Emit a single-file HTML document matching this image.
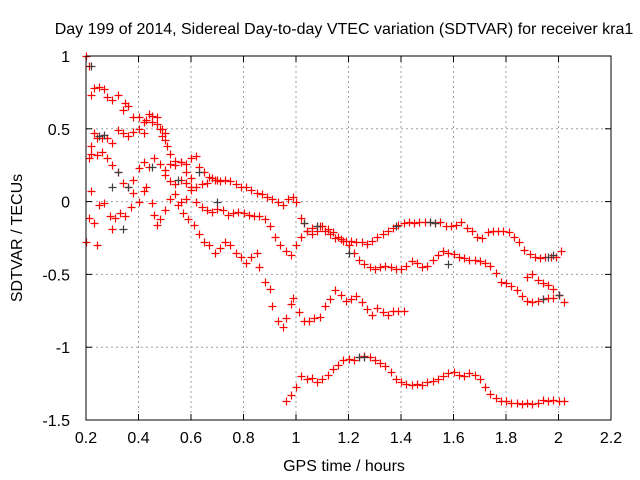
<!DOCTYPE html>
<html><head><meta charset="utf-8"><style>
body{margin:0;background:#fff;}
svg{display:block;font-family:"Liberation Sans",sans-serif;}
</style></head><body>
<svg id="chart" width="640" height="480" viewBox="0 0 640 480">
<rect x="0" y="0" width="640" height="480" fill="#fff"/>
<g id="grid"></g>
<g id="marks"></g>
<rect x="86" y="56" width="525" height="364" fill="none" stroke="#000" stroke-width="1"/>
<g id="ticks"></g>
<text x="344" y="34" font-size="16" text-anchor="middle">Day 199 of 2014, Sidereal Day-to-day VTEC variation (SDTVAR) for receiver kra1</text>
<text x="344" y="471" font-size="16" text-anchor="middle">GPS time / hours</text>
<text x="0" y="0" font-size="16" text-anchor="middle" transform="translate(22,238) rotate(-90)">SDTVAR / TECUs</text>
</svg>
<script>
const xTicks=[0.2,0.4,0.6,0.8,1,1.2,1.4,1.6,1.8,2,2.2];
const xTickLabels=["0.2","0.4","0.6","0.8","1","1.2","1.4","1.6","1.8","2","2.2"];
const yTicks=[1,0.5,0,-0.5,-1,-1.5];
const yTickLabels=["1","0.5","0","-0.5","-1","-1.5"];
const aX=[0.99,1.0,1.02,1.03,1.04,1.06,1.08,1.09,1.11,1.13,1.15,1.17,1.19,1.21,1.23,1.25,1.27,1.29,1.31,1.33,1.35,1.37,1.39,1.41,1.43,1.45,1.47,1.49,1.51,1.53,1.55,1.57,1.59,1.61,1.63,1.65,1.67,1.69,1.71,1.73,1.75,1.77,1.79,1.81,1.83,1.85,1.87,1.89,1.91,1.93,1.95,1.97,1.99,2.01];
const aY=[0.03,0.0,-0.11,-0.15,-0.2,-0.22,-0.2,-0.17,-0.2,-0.22,-0.25,-0.26,-0.27,-0.27,-0.28,-0.28,-0.29,-0.27,-0.24,-0.22,-0.2,-0.18,-0.16,-0.15,-0.14,-0.15,-0.14,-0.14,-0.14,-0.15,-0.14,-0.17,-0.17,-0.16,-0.14,-0.18,-0.2,-0.24,-0.25,-0.21,-0.2,-0.2,-0.2,-0.21,-0.24,-0.28,-0.33,-0.36,-0.38,-0.39,-0.38,-0.38,-0.38,-0.34];
const bX=[0.86,0.88,0.9,0.92,0.94,0.96,0.98,1.0,1.02,1.04,1.06,1.08,1.1,1.12,1.14,1.16,1.18,1.2,1.22,1.24,1.26,1.28,1.3,1.32,1.34,1.36,1.38,1.4,1.42,1.44,1.46,1.48,1.5,1.52,1.54,1.56,1.58,1.6,1.62,1.64,1.66,1.68,1.7,1.72,1.74,1.76,1.78,1.8,1.82,1.84,1.86,1.88,1.9,1.92,1.94,1.96,1.98,2.0,2.02,1.88,1.9,1.92,1.94,1.96,1.98,2.0];
const bY=[-0.1,-0.12,-0.17,-0.24,-0.3,-0.34,-0.37,-0.3,-0.24,-0.2,-0.18,-0.17,-0.17,-0.19,-0.21,-0.24,-0.27,-0.3,-0.35,-0.4,-0.43,-0.45,-0.46,-0.45,-0.44,-0.45,-0.46,-0.46,-0.44,-0.41,-0.42,-0.45,-0.44,-0.4,-0.37,-0.34,-0.35,-0.36,-0.38,-0.39,-0.4,-0.4,-0.41,-0.42,-0.44,-0.49,-0.55,-0.56,-0.58,-0.61,-0.65,-0.68,-0.69,-0.68,-0.67,-0.66,-0.66,-0.64,-0.69,-0.52,-0.5,-0.54,-0.56,-0.57,-0.6,-0.64];
const cX=[0.55,0.57,0.59,0.61,0.63,0.65,0.67,0.69,0.71,0.73,0.75,0.77,0.79,0.81,0.83,0.85,0.86,0.88,0.9,0.91,0.93,0.95,0.96,0.98,0.99,1.01,1.03,1.05,1.07,1.09,1.11,1.13,1.15,1.17,1.19,1.21,1.23,1.25,1.27,1.29,1.31,1.33,1.35,1.37,1.39,1.41];
const cY=[-0.02,-0.08,-0.12,-0.16,-0.22,-0.28,-0.3,-0.35,-0.32,-0.28,-0.3,-0.35,-0.38,-0.42,-0.38,-0.35,-0.45,-0.55,-0.6,-0.72,-0.82,-0.86,-0.8,-0.7,-0.66,-0.76,-0.82,-0.82,-0.8,-0.79,-0.72,-0.67,-0.61,-0.64,-0.68,-0.67,-0.65,-0.69,-0.74,-0.78,-0.73,-0.76,-0.78,-0.75,-0.75,-0.75];
const dX=[0.96,0.98,1.0,1.02,1.04,1.06,1.08,1.1,1.12,1.14,1.16,1.18,1.2,1.22,1.24,1.26,1.28,1.3,1.32,1.34,1.36,1.38,1.4,1.42,1.44,1.46,1.48,1.5,1.52,1.54,1.56,1.58,1.6,1.62,1.64,1.66,1.68,1.7,1.72,1.74,1.76,1.78,1.8,1.82,1.84,1.86,1.88,1.9,1.92,1.94,1.96,1.98,2.0,2.02];
const dY=[-1.37,-1.33,-1.27,-1.2,-1.22,-1.21,-1.24,-1.22,-1.19,-1.15,-1.12,-1.09,-1.08,-1.09,-1.07,-1.06,-1.07,-1.09,-1.11,-1.13,-1.17,-1.22,-1.24,-1.25,-1.26,-1.25,-1.26,-1.24,-1.23,-1.22,-1.2,-1.18,-1.17,-1.19,-1.2,-1.18,-1.19,-1.22,-1.27,-1.32,-1.35,-1.37,-1.37,-1.38,-1.38,-1.39,-1.38,-1.39,-1.38,-1.36,-1.37,-1.36,-1.37,-1.37];
const eX=[0.2,0.21,0.22,0.23,0.25,0.27,0.28,0.3,0.32,0.34,0.35,0.36,0.38,0.4,0.42,0.44,0.45,0.47,0.48,0.49,0.5,0.51,0.52,0.54,0.56,0.58,0.6,0.62,0.63,0.65,0.67,0.69,0.71,0.73,0.75,0.77,0.79,0.81,0.83,0.85,0.87,0.89,0.91,0.93,0.95,0.97];
const eY=[1.0,0.93,0.73,0.78,0.79,0.77,0.72,0.7,0.73,0.63,0.68,0.66,0.58,0.58,0.55,0.6,0.59,0.53,0.5,0.45,0.42,0.38,0.33,0.28,0.27,0.26,0.3,0.31,0.24,0.2,0.17,0.15,0.14,0.15,0.14,0.12,0.1,0.1,0.08,0.06,0.05,0.03,0.02,0.0,-0.02,0.02];
const fX=[0.22,0.23,0.24,0.26,0.28,0.3,0.32,0.34,0.36,0.38,0.4,0.42,0.43,0.45,0.47,0.49,0.5];
const fY=[0.38,0.47,0.44,0.44,0.44,0.4,0.49,0.47,0.45,0.48,0.5,0.47,0.56,0.55,0.58,0.5,0.47];
const gX=[0.21,0.22,0.24,0.26,0.28,0.3,0.32,0.34,0.36,0.38,0.4,0.42,0.44,0.46,0.48,0.5,0.52,0.54,0.56,0.58,0.6];
const gY=[0.3,0.33,0.32,0.34,0.3,0.25,0.2,0.13,0.1,0.15,0.23,0.27,0.24,0.3,0.26,0.22,0.26,0.25,0.27,0.2,0.16];
const hX=[0.2,0.21,0.22,0.23,0.24,0.25,0.27,0.29,0.3,0.31,0.33,0.35,0.37,0.38,0.4,0.42,0.43,0.45,0.46,0.47,0.48,0.5,0.52,0.54,0.56,0.58,0.6,0.62,0.64,0.66,0.68,0.7,0.72,0.74,0.76,0.78,0.8,0.82,0.84];
const hY=[-0.28,-0.11,0.07,-0.15,-0.3,-0.02,-0.01,-0.1,-0.19,-0.11,-0.08,-0.1,-0.04,0.06,0.0,0.07,0.1,-0.01,-0.09,-0.16,-0.12,-0.06,0.02,0.05,0.0,0.02,0.08,0.0,-0.04,-0.06,-0.07,-0.05,-0.06,-0.09,-0.08,-0.07,-0.08,-0.09,-0.1];
const iX=[0.5,0.52,0.54,0.56,0.58,0.6,0.62,0.64,0.66,0.68,0.7];
const iY=[0.18,0.14,0.12,0.15,0.13,0.1,0.1,0.12,0.13,0.16,0.15];
const greyX=[0.22,0.25,0.27,0.3,0.32,0.34,0.36,0.45,0.55,0.63,1.08,1.38,1.51,1.53,1.58,1.96,1.98,1.94,2.0,1.26,1.24,1.2,1.03,0.7];
const greyY=[0.93,0.45,0.46,0.1,0.2,-0.19,0.1,0.24,0.15,0.2,-0.17,-0.17,-0.14,-0.15,-0.43,-0.38,-0.37,-0.67,-0.64,-1.07,-1.07,-0.35,-0.15,0.0];

const NS="http://www.w3.org/2000/svg";
const L=86,R=611,T=56,B=420;
function sx(v){return L+(v-0.2)/2.0*(R-L);}
function sy(v){return T+(1-v)/2.5*(B-T);}
function mk(tag,attrs,parent){const e=document.createElementNS(NS,tag);for(const k in attrs)e.setAttribute(k,attrs[k]);parent.appendChild(e);return e;}
const grid=document.getElementById('grid'),ticks=document.getElementById('ticks'),marks=document.getElementById('marks');
xTicks.forEach((v,i)=>{
  const x=sx(v);
  if(i>0&&i<xTicks.length-1){const g=mk('line',{x1:x,y1:T,x2:x,y2:B,stroke:'#a0a0a0','stroke-dasharray':'2,3'},grid);
    
    }
  const t1=mk('line',{x1:x,y1:B,x2:x,y2:B-6,stroke:'#000'},ticks);
  
  
  mk('line',{x1:x,y1:T,x2:x,y2:T+6,stroke:'#000'},ticks);
  const lb=mk('text',{x:x,y:443,'font-size':16,'text-anchor':'middle'},ticks);
  lb.textContent=xTickLabels[i];
  
  
});
yTicks.forEach((v,i)=>{
  const y=sy(v);
  if(i>0&&i<yTicks.length-1){const g=mk('line',{x1:L,y1:y,x2:R,y2:y,stroke:'#a0a0a0','stroke-dasharray':'2,3'},grid);
    
    }
  const t1=mk('line',{x1:L,y1:y,x2:L+6,y2:y,stroke:'#000'},ticks);
  
  
  mk('line',{x1:R,y1:y,x2:R-6,y2:y,stroke:'#000'},ticks);
  const lb=mk('text',{x:70,y:y+6,'font-size':16,'text-anchor':'end'},ticks);
  lb.textContent=yTickLabels[i];
  
  
});
function plus(xs,ys,color,name){
  const g=mk('g',{stroke:color,'stroke-width':1.2},marks);
  
  
  for(let i=0;i<xs.length;i++){
    const x=Math.round(sx(xs[i]))+0.5,y=Math.round(sy(ys[i]))+0.5;
    const p=mk('path',{d:`M${x-4} ${y}H${x+4}M${x} ${y-4}V${y+4}`},g);
    
    
  }
}
plus(aX,aY,'#ff0000','series-a');
plus(bX,bY,'#ff0000','series-b');
plus(cX,cY,'#ff0000','series-c');
plus(dX,dY,'#ff0000','series-d');
plus(eX,eY,'#ff0000','series-e');
plus(fX,fY,'#ff0000','series-f');
plus(gX,gY,'#ff0000','series-g');
plus(hX,hY,'#ff0000','series-h');
plus(iX,iY,'#ff0000','series-i');
plus(greyX,greyY,'#404040','series-grey');
</script>
</body></html>
